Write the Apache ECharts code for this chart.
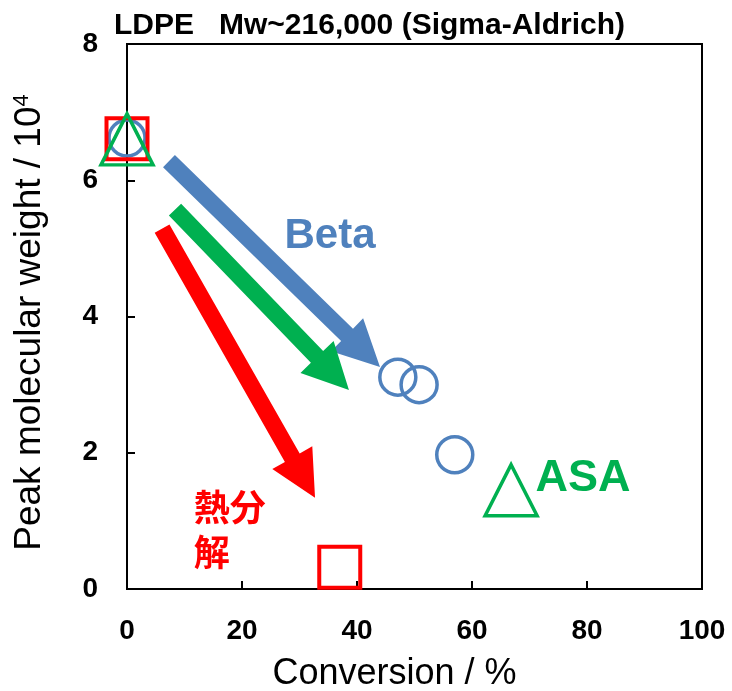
<!DOCTYPE html>
<html>
<head>
<meta charset="utf-8">
<script src="https://cdn.jsdelivr.net/npm/echarts@6/dist/echarts.min.js"></script>
<style>
  html, body { margin: 0; padding: 0; background: #fff; }
  #chart { width: 732px; height: 691px; }
</style>
</head>
<body>
<div id="chart"></div>
<script>
// Peak molecular weight (x10^4) vs. conversion (%) for LDPE cracking
const betaPoints = [[0, 6.62], [47.1, 3.11], [50.8, 3.0], [57.0, 1.97]];
const asaPoints = [[0, 6.6], [66.8, 1.45]];
const thermalPoints = [[0, 6.61], [37.0, 0.32]];

const xTicks = [0, 20, 40, 60, 80, 100];
const yTicks = [0, 2, 4, 6, 8];

// Trend arrows: [x start, y start, x end (tip), y end (tip)]
const arrowBeta = [7.3, 6.28, 44.0, 3.26];
const arrowAsa = [8.35, 5.57, 38.6, 2.92];
const arrowThermal = [6.1, 5.29, 32.7, 1.34];

// Annotation labels anchored in data space: [x, y]
const labelTexts = ['Beta', 'ASA', '熱分\n解'];
const labelPos = [[35.3, 5.17], [79.3, 1.62], [11.6, 0.87]];

const BLUE = '#4F81BD';
const GREEN = '#00B050';
const RED = '#FF0000';
const labelColors = [BLUE, GREEN, RED];
const labelSizes = [42, 45, 36];
const arrowColors = [BLUE, GREEN, RED];

const FONT = '"Liberation Sans", Arial, sans-serif';
const CJK = '"Noto Sans CJK JP", "Liberation Sans", sans-serif';

const chart = echarts.init(document.getElementById('chart'), null, { renderer: 'canvas' });

// Block arrow: shaft plus triangular head, built in pixel space from data endpoints
function renderArrow(params, api) {
  const s = api.coord([api.value(0), api.value(1)]);
  const e = api.coord([api.value(2), api.value(3)]);
  const dx = e[0] - s[0], dy = e[1] - s[1];
  const len = Math.sqrt(dx * dx + dy * dy);
  const ux = dx / len, uy = dy / len;
  const nx = -uy, ny = ux;
  const hw = 8.5, HW = 23, headLen = 46;
  const bx = e[0] - ux * headLen, by = e[1] - uy * headLen;
  const pts = [
    [s[0] + nx * hw, s[1] + ny * hw],
    [bx + nx * hw, by + ny * hw],
    [bx + nx * HW, by + ny * HW],
    [e[0], e[1]],
    [bx - nx * HW, by - ny * HW],
    [bx - nx * hw, by - ny * hw],
    [s[0] - nx * hw, s[1] - ny * hw]
  ];
  return {
    type: 'polygon',
    shape: { points: pts },
    style: { fill: arrowColors[params.dataIndex] }
  };
}

function renderLabel(params, api) {
  const p = api.coord([api.value(0), api.value(1)]);
  const i = params.dataIndex;
  const isCjk = i === 2;
  return {
    type: 'text',
    x: p[0],
    y: p[1],
    style: {
      text: labelTexts[i],
      fill: labelColors[i],
      font: 'bold ' + labelSizes[i] + 'px ' + (isCjk ? CJK : FONT),
      align: isCjk ? 'left' : 'center',
      verticalAlign: 'middle',
      lineHeight: isCjk ? 45 : 48
    }
  };
}

const option = {
  backgroundColor: '#fff',
  animation: false,
  title: {
    text: 'LDPE   Mw~216,000 (Sigma-Aldrich)',
    left: 109,
    top: 6,
    textStyle: { fontFamily: FONT, fontWeight: 'bold', fontSize: 30, color: '#000' }
  },
  grid: {
    left: 127, right: 30, top: 44, bottom: 102,
    outerBoundsMode: 'none',
    containLabel: false,
    show: true, borderColor: '#000', borderWidth: 2, backgroundColor: 'transparent'
  },
  xAxis: {
    type: 'value', min: 0, max: 100, interval: 20,
    name: 'Conversion / %',
    nameLocation: 'middle',
    nameGap: 67,
    nameTextStyle: { fontFamily: FONT, fontSize: 36, color: '#000', padding: [0, 40, 0, 0] },
    axisLine: { show: true, onZero: false, lineStyle: { color: '#000', width: 2 } },
    axisTick: { show: true, inside: true, length: 8, lineStyle: { color: '#000', width: 2 } },
    splitLine: { show: false },
    axisLabel: {
      fontFamily: FONT, fontWeight: 'bold', fontSize: 28, color: '#000', margin: 28,
      formatter: v => (xTicks.indexOf(v) >= 0 ? String(v) : '')
    }
  },
  yAxis: {
    type: 'value', min: 0, max: 8, interval: 2,
    name: 'Peak molecular weight / 10{sup|4}',
    nameLocation: 'middle',
    nameGap: 78,
    nameTextStyle: {
      fontFamily: FONT, fontSize: 37, color: '#000',
      padding: [0, 12, 0, 0],
      rich: {
        sup: { fontFamily: FONT, fontSize: 22, color: '#000', verticalAlign: 'top', padding: [0, 0, 16, 0] }
      }
    },
    axisLine: { show: true, onZero: false, lineStyle: { color: '#000', width: 2 } },
    axisTick: { show: true, inside: true, length: 8, lineStyle: { color: '#000', width: 2 } },
    splitLine: { show: false },
    axisLabel: {
      fontFamily: FONT, fontWeight: 'bold', fontSize: 28, color: '#000', margin: 29,
      formatter: v => (yTicks.indexOf(v) >= 0 ? String(v) : '')
    }
  },
  series: [
    {
      name: 'Beta', type: 'scatter', data: betaPoints,
      symbol: 'circle', symbolSize: 36, z: 3,
      itemStyle: { color: 'rgba(0,0,0,0)', borderColor: BLUE, borderWidth: 3.5, opacity: 1 }
    },
    {
      name: 'Thermal', type: 'scatter', data: thermalPoints,
      symbol: 'rect', symbolSize: 41, z: 4,
      itemStyle: { color: 'rgba(0,0,0,0)', borderColor: RED, borderWidth: 4, opacity: 1 }
    },
    {
      name: 'ASA', type: 'scatter', data: asaPoints,
      symbol: 'triangle', symbolSize: [52, 51], z: 5,
      itemStyle: { color: 'rgba(0,0,0,0)', borderColor: GREEN, borderWidth: 3.5, opacity: 1 }
    },
    {
      name: 'arrows', type: 'custom', z: 6,
      data: [arrowBeta, arrowAsa, arrowThermal],
      encode: { x: [0, 2], y: [1, 3] },
      renderItem: renderArrow,
      silent: true
    },
    {
      name: 'labels', type: 'custom', z: 7,
      data: labelPos,
      encode: { x: 0, y: 1 },
      renderItem: renderLabel,
      silent: true
    }
  ]
};

chart.setOption(option);
</script>
</body>
</html>
